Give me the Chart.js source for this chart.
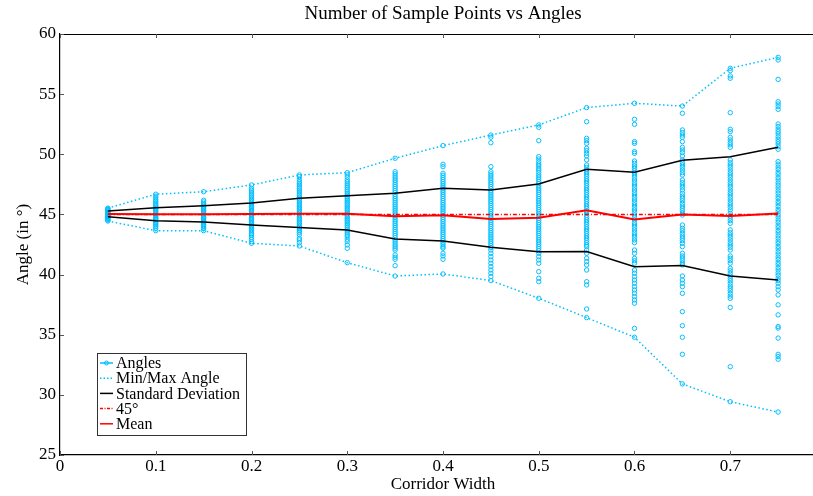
<!DOCTYPE html>
<html lang="en">

<head>
    <meta charset="UTF-8">
    <title>Number of Sample Points vs Angles</title>
    <script src="https://cdn.jsdelivr.net/npm/chart.js"></script>
    <style>
        html, body { margin: 0; background: #fff; overflow: hidden; }
    </style>
</head>

<body>
    <!-- slightly wider than the window: the x axis runs on to 0.8 past the right edge -->
    <canvas id="angleChart" width="831" height="496"></canvas>

    <script>
        // corridor widths tested
        const widths = [0.05, 0.1, 0.15, 0.2, 0.25, 0.3, 0.35, 0.4, 0.45, 0.5, 0.55, 0.6, 0.65, 0.7, 0.75];

        const meanAngle = [45.04, 45.02, 45.02, 45.04, 45.06, 45.05, 44.84, 44.93, 44.62, 44.73, 45.34, 44.57, 45.0, 44.87, 45.07];
        const stdUpper = [45.29, 45.56, 45.73, 45.95, 46.34, 46.56, 46.76, 47.17, 47.03, 47.53, 48.75, 48.5, 49.5, 49.8, 50.58];
        const stdLower = [44.8, 44.47, 44.38, 44.12, 43.91, 43.71, 42.96, 42.79, 42.27, 41.9, 41.92, 40.66, 40.75, 39.88, 39.55];
        const maxAngle = [45.52, 46.68, 46.89, 47.45, 48.28, 48.47, 49.67, 50.72, 51.6, 52.44, 53.88, 54.24, 54.01, 57.15, 58.06];
        const minAngle = [44.45, 43.65, 43.65, 42.6, 42.38, 40.99, 39.88, 40.05, 39.5, 38.03, 36.42, 34.79, 30.91, 29.43, 28.57];

        // measured angles, one list per corridor width
        const angleSamples = [
            [45.52, 45.47, 45.4, 45.33, 45.27, 45.21, 45.16, 45.11, 45.06, 45.02, 44.97, 44.93, 44.88, 44.83, 44.78, 44.72, 44.66, 44.6, 44.53, 44.45],
            [46.68, 46.52, 46.38, 46.23, 46.1, 45.96, 45.83, 45.71, 45.6, 45.49, 45.38, 45.28, 45.18, 45.08, 44.98, 44.88, 44.78, 44.68, 44.57, 44.46, 44.35, 44.23, 44.11, 43.99, 43.84, 43.65],
            [46.89, 46.18, 46.04, 45.91, 45.79, 45.67, 45.56, 45.46, 45.36, 45.26, 45.16, 45.06, 44.96, 44.86, 44.76, 44.65, 44.54, 44.43, 44.31, 44.19, 44.07, 43.95, 43.84, 43.65],
            [47.45, 47.17, 47.01, 46.86, 46.71, 46.57, 46.43, 46.29, 46.16, 46.03, 45.9, 45.78, 45.66, 45.55, 45.44, 45.33, 45.22, 45.11, 45.0, 44.89, 44.78, 44.67, 44.56, 44.44, 44.32, 44.2, 44.07, 43.94, 43.81, 43.68, 43.55, 43.43, 43.3, 43.1, 42.93, 42.74, 42.6],
            [48.28, 48.14, 47.92, 47.73, 47.59, 47.45, 47.3, 47.16, 47.01, 46.87, 46.72, 46.58, 46.44, 46.3, 46.16, 46.02, 45.89, 45.76, 45.63, 45.5, 45.37, 45.24, 45.11, 44.98, 44.85, 44.72, 44.59, 44.46, 44.33, 44.2, 44.06, 43.92, 43.78, 43.64, 43.5, 43.32, 43.02, 42.88, 42.65, 42.38],
            [48.47, 48.28, 48.09, 47.86, 47.7, 47.54, 47.38, 47.23, 47.07, 46.92, 46.77, 46.62, 46.47, 46.33, 46.18, 46.04, 45.9, 45.76, 45.62, 45.48, 45.34, 45.2, 45.06, 44.92, 44.78, 44.64, 44.5, 44.36, 44.22, 44.07, 43.92, 43.77, 43.62, 43.46, 43.3, 43.15, 42.93, 42.74, 42.46, 42.19, 40.99],
            [49.67, 48.55, 48.38, 48.2, 48.03, 47.85, 47.68, 47.5, 47.33, 47.16, 46.99, 46.82, 46.65, 46.48, 46.31, 46.14, 45.97, 45.8, 45.63, 45.46, 45.29, 45.12, 44.95, 44.78, 44.61, 44.44, 44.27, 44.1, 43.93, 43.76, 43.59, 43.42, 43.25, 43.07, 42.89, 42.71, 42.53, 42.36, 42.2, 42.04, 41.63, 41.44, 41.27, 40.74, 39.88],
            [50.72, 49.17, 48.97, 48.42, 48.25, 48.07, 47.9, 47.72, 47.55, 47.37, 47.2, 47.02, 46.85, 46.67, 46.5, 46.32, 46.15, 45.97, 45.8, 45.62, 45.45, 45.27, 45.1, 44.92, 44.75, 44.57, 44.4, 44.22, 44.05, 43.87, 43.7, 43.52, 43.35, 43.17, 43.0, 42.82, 42.65, 42.47, 42.3, 42.19, 41.77, 41.55, 41.27, 40.05],
            [51.6, 51.41, 50.96, 48.97, 48.55, 48.37, 48.2, 48.02, 47.85, 47.67, 47.5, 47.32, 47.15, 46.97, 46.8, 46.62, 46.45, 46.27, 46.1, 45.92, 45.75, 45.57, 45.4, 45.22, 45.05, 44.87, 44.7, 44.52, 44.35, 44.17, 44.0, 43.82, 43.65, 43.47, 43.3, 43.12, 42.95, 42.77, 42.6, 42.42, 42.25, 42.04, 41.77, 41.49, 41.21, 40.94, 40.66, 40.38, 40.11, 39.83, 39.5],
            [52.44, 52.24, 51.13, 49.8, 49.61, 49.38, 49.19, 49.03, 48.84, 48.69, 48.5, 48.28, 48.1, 47.92, 47.74, 47.56, 47.38, 47.2, 47.02, 46.84, 46.66, 46.48, 46.3, 46.12, 45.94, 45.76, 45.58, 45.4, 45.22, 45.04, 44.86, 44.68, 44.5, 44.32, 44.14, 43.96, 43.78, 43.6, 43.42, 43.24, 43.06, 42.88, 42.7, 42.52, 42.34, 42.16, 41.98, 41.77, 41.49, 41.21, 40.94, 40.24, 39.69, 39.41, 38.03],
            [53.88, 52.71, 51.33, 51.13, 50.91, 50.5, 50.3, 50.08, 49.86, 49.53, 49.11, 48.92, 48.73, 48.54, 48.35, 48.16, 47.97, 47.78, 47.59, 47.4, 47.21, 47.02, 46.83, 46.64, 46.45, 46.26, 46.07, 45.88, 45.69, 45.5, 45.31, 45.12, 44.93, 44.74, 44.55, 44.36, 44.17, 43.98, 43.79, 43.6, 43.41, 43.22, 43.03, 42.84, 42.65, 42.46, 42.32, 42.04, 41.77, 41.36, 41.07, 40.8, 40.38, 39.41, 39.14, 37.14, 36.42],
            [54.24, 52.91, 52.49, 51.05, 50.91, 50.22, 50.08, 49.44, 49.25, 49.03, 48.83, 48.64, 48.47, 48.28, 48.09, 47.86, 47.64, 47.45, 47.26, 47.03, 46.81, 46.62, 46.42, 46.2, 45.98, 45.79, 45.59, 45.37, 45.15, 44.95, 44.76, 44.54, 44.31, 44.12, 43.93, 43.71, 43.48, 43.29, 43.1, 42.88, 42.65, 42.04, 41.77, 41.35, 41.15, 40.94, 40.38, 40.11, 39.83, 39.55, 39.28, 39.0, 38.72, 38.45, 38.17, 37.89, 37.62, 35.53, 34.79],
            [54.01, 53.41, 52.02, 51.8, 51.6, 51.41, 51.05, 50.58, 50.36, 50.14, 49.86, 49.53, 49.3, 49.11, 48.92, 48.69, 48.47, 48.28, 47.86, 47.64, 47.45, 47.26, 47.03, 46.76, 46.53, 46.34, 46.14, 45.92, 45.7, 45.51, 45.31, 45.1, 44.95, 44.12, 43.85, 43.65, 43.43, 43.21, 43.02, 42.82, 42.6, 42.32, 41.77, 41.55, 41.36, 41.16, 40.94, 40.8, 39.88, 39.55, 39.28, 38.99, 38.44, 36.92, 35.75, 34.79, 33.37, 30.91],
            [57.15, 56.95, 56.51, 56.32, 53.46, 52.08, 51.88, 51.41, 51.19, 50.97, 50.78, 50.58, 49.53, 49.3, 49.11, 48.92, 48.69, 48.47, 48.28, 48.09, 47.86, 47.64, 47.45, 47.26, 47.03, 46.81, 46.62, 46.42, 46.2, 45.98, 45.79, 45.59, 45.37, 45.1, 44.87, 44.68, 44.48, 44.26, 43.71, 43.48, 43.29, 43.1, 42.88, 42.65, 42.46, 42.27, 42.04, 41.55, 41.36, 41.16, 40.94, 40.52, 40.32, 40.11, 39.88, 39.69, 39.49, 39.28, 39.05, 38.86, 38.66, 38.44, 38.21, 38.02, 37.27, 32.34, 29.43],
            [58.06, 57.84, 56.23, 54.37, 54.18, 53.96, 53.74, 52.52, 52.3, 52.08, 51.88, 51.69, 51.46, 51.25, 51.05, 50.86, 50.63, 50.42, 49.39, 49.18, 48.94, 48.74, 48.5, 48.3, 48.06, 47.86, 47.62, 47.42, 47.2, 46.96, 46.76, 46.52, 46.32, 46.08, 45.88, 45.66, 45.42, 45.22, 44.98, 44.78, 44.54, 44.34, 44.1, 43.9, 43.66, 43.46, 43.22, 43.02, 42.78, 42.58, 42.34, 42.14, 41.9, 41.7, 41.46, 41.26, 41.02, 40.82, 40.58, 40.38, 40.14, 39.94, 39.7, 39.5, 39.28, 38.99, 38.72, 38.31, 37.48, 36.65, 35.68, 35.55, 34.72, 33.37, 33.18, 32.96, 28.57]
        ];

        const xMin = 0, xMax = 0.8;
        const yTicks = { min: 25, max: 60, step: 5 };

        const CYAN = 'rgb(0, 191, 255)';
        const RED = 'rgb(255, 0, 0)';
        const SERIF = "'Liberation Serif', 'DejaVu Serif', serif";

        const toPoints = arr => arr.map((v, i) => ({ x: widths[i], y: v }));

        const scatterPoints = [];
        angleSamples.forEach((list, i) => {
            list.forEach(v => scatterPoints.push({ x: widths[i], y: v }));
        });

        // top frame line and inward tick marks
        const framePlugin = {
            id: 'frame',
            afterDraw(chart) {
                const { ctx, chartArea: a, scales: { x, y } } = chart;
                ctx.save();
                ctx.strokeStyle = '#000';
                ctx.lineWidth = 1.2;
                ctx.beginPath();
                ctx.moveTo(a.left, a.top + 0.5);
                ctx.lineTo(a.right, a.top + 0.5);
                ctx.stroke();

                ctx.strokeStyle = '#555';
                ctx.lineWidth = 1;
                ctx.beginPath();
                x.ticks.forEach(t => {
                    const px = Math.round(x.getPixelForValue(t.value)) + 0.5;
                    ctx.moveTo(px, a.bottom);
                    ctx.lineTo(px, a.bottom - 4);
                    ctx.moveTo(px, a.top);
                    ctx.lineTo(px, a.top + 4);
                });
                y.ticks.forEach(t => {
                    const py = Math.round(y.getPixelForValue(t.value)) + 0.5;
                    ctx.moveTo(a.left, py);
                    ctx.lineTo(a.left + 4, py);
                });
                ctx.stroke();
                ctx.restore();
            }
        };

        // legend box in the lower left corner
        const legendPlugin = {
            id: 'cornerLegend',
            afterDraw(chart) {
                const { ctx, chartArea: a } = chart;
                const entries = [
                    { label: 'Angles', color: CYAN, dash: [], marker: true },
                    { label: 'Min/Max Angle', color: CYAN, dash: [1.5, 2] },
                    { label: 'Standard Deviation', color: '#000', dash: [] },
                    { label: '45°', color: RED, dash: [3, 1.5, 1, 1.5] },
                    { label: 'Mean', color: RED, dash: [] }
                ];
                const bx = a.left + 37, by = a.bottom - 102, bw = 149, bh = 82;
                ctx.save();
                ctx.fillStyle = '#fff';
                ctx.fillRect(bx, by, bw, bh);
                ctx.strokeStyle = '#333';
                ctx.lineWidth = 1;
                ctx.strokeRect(bx + 0.5, by + 0.5, bw, bh);

                ctx.font = '16px ' + SERIF;
                ctx.textBaseline = 'middle';
                entries.forEach((e, i) => {
                    const cy = by + 10 + i * 15.2;
                    ctx.strokeStyle = e.color;
                    ctx.lineWidth = 1.5;
                    ctx.setLineDash(e.dash);
                    ctx.beginPath();
                    ctx.moveTo(bx + 3, cy);
                    ctx.lineTo(bx + 16, cy);
                    ctx.stroke();
                    ctx.setLineDash([]);
                    if (e.marker) {
                        ctx.lineWidth = 1;
                        ctx.beginPath();
                        ctx.arc(bx + 9.5, cy, 2, 0, Math.PI * 2);
                        ctx.stroke();
                    }
                    ctx.fillStyle = '#000';
                    ctx.fillText(e.label, bx + 19, cy + 1);
                });
                ctx.restore();
            }
        };

        const ctx = document.getElementById('angleChart').getContext('2d');
        new Chart(ctx, {
            type: 'line',
            data: {
                datasets: [
                    {
                        label: 'Mean',
                        data: toPoints(meanAngle),
                        borderColor: RED,
                        borderWidth: 2,
                        pointRadius: 0,
                        order: 1
                    },
                    {
                        label: '45°',
                        data: [{ x: widths[0], y: 45 }, { x: widths[widths.length - 1], y: 45 }],
                        borderColor: RED,
                        borderWidth: 1.5,
                        borderDash: [4, 2, 1, 2],
                        pointRadius: 0,
                        order: 2
                    },
                    {
                        label: 'Standard Deviation',
                        data: toPoints(stdUpper),
                        borderColor: '#000',
                        borderWidth: 1.5,
                        pointRadius: 0,
                        order: 3
                    },
                    {
                        label: 'Standard Deviation (lower)',
                        data: toPoints(stdLower),
                        borderColor: '#000',
                        borderWidth: 1.5,
                        pointRadius: 0,
                        order: 3
                    },
                    {
                        label: 'Min/Max Angle',
                        data: toPoints(maxAngle),
                        borderColor: CYAN,
                        borderWidth: 1.5,
                        borderDash: [1.5, 2.5],
                        pointRadius: 0,
                        order: 4
                    },
                    {
                        label: 'Min Angle',
                        data: toPoints(minAngle),
                        borderColor: CYAN,
                        borderWidth: 1.5,
                        borderDash: [1.5, 2.5],
                        pointRadius: 0,
                        order: 4
                    },
                    {
                        type: 'scatter',
                        label: 'Angles',
                        data: scatterPoints,
                        showLine: false,
                        borderColor: CYAN,
                        backgroundColor: 'rgba(0,0,0,0)',
                        borderWidth: 1,
                        pointRadius: 2.2,
                        order: 5
                    }
                ]
            },
            options: {
                responsive: false,
                animation: false,
                devicePixelRatio: 1,
                layout: { padding: 0 },
                font: { family: SERIF },
                plugins: {
                    legend: { display: false },
                    tooltip: { enabled: false },
                    title: {
                        display: true,
                        text: 'Number of Sample Points vs Angles',
                        fullSize: false,
                        color: '#000',
                        font: { family: SERIF, size: 19, weight: 'normal' },
                        padding: { top: 3, bottom: 8.2 }
                    }
                },
                scales: {
                    x: {
                        type: 'linear',
                        min: xMin,
                        max: xMax,
                        afterFit: scale => {
                            scale.height = 41;
                            scale.paddingLeft = 0;
                            scale.paddingRight = 0;
                        },
                        ticks: {
                            stepSize: 0.1,
                            color: '#000',
                            padding: 1,
                            maxRotation: 0,
                            font: { family: SERIF, size: 17 },
                            // the 0.8 label falls off the page, leave it blank
                            callback: v => (v >= xMax - 1e-9 ? '' : String(Math.round(v * 10) / 10))
                        },
                        grid: { drawOnChartArea: false, drawTicks: false },
                        border: { color: '#000', width: 1.2 },
                        title: {
                            display: true,
                            text: 'Corridor Width',
                            color: '#000',
                            font: { family: SERIF, size: 17 },
                            padding: { top: 0, bottom: 1 }
                        }
                    },
                    y: {
                        min: yTicks.min,
                        max: yTicks.max,
                        afterFit: scale => { scale.width = 60; },
                        ticks: {
                            stepSize: yTicks.step,
                            color: '#000',
                            padding: 4,
                            font: { family: SERIF, size: 17 }
                        },
                        grid: { drawOnChartArea: false, drawTicks: false },
                        border: { color: '#000', width: 1.2 },
                        title: {
                            display: true,
                            text: 'Angle (in °)',
                            color: '#000',
                            font: { family: SERIF, size: 17 },
                            padding: { top: 13, bottom: 0 }
                        }
                    }
                }
            },
            plugins: [framePlugin, legendPlugin]
        });
    </script>
</body>

</html>
